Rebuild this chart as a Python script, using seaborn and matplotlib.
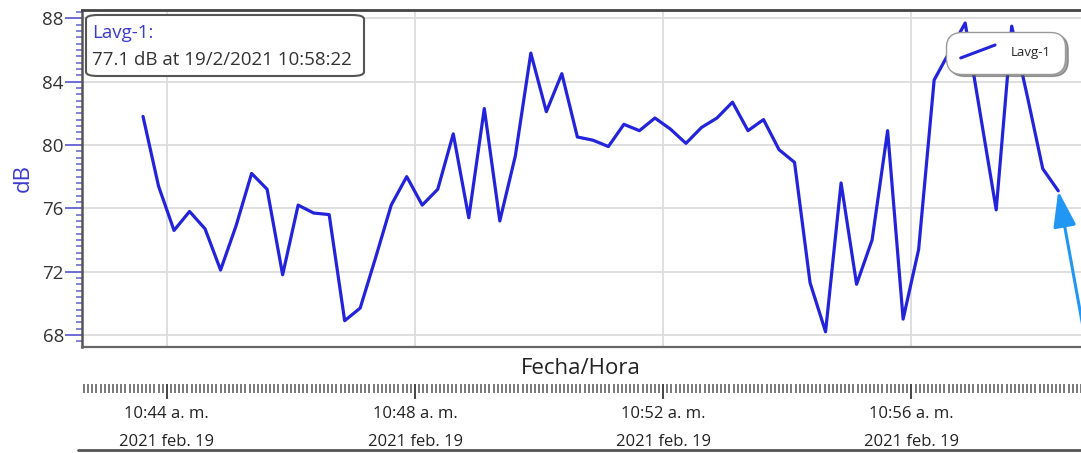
import pandas as pd
import matplotlib
matplotlib.use("Agg")
import matplotlib.pyplot as plt
import matplotlib.dates as mdates
from matplotlib.ticker import MultipleLocator, FuncFormatter
from matplotlib.lines import Line2D
from matplotlib.patches import FancyBboxPatch
from matplotlib.legend_handler import HandlerBase
import seaborn as sns

# Lavg-1 level, one reading every 15 s
start_time = "2021-02-19 10:43:37"
sample_step = "15s"
lavg_db = [81.8, 77.4, 74.6, 75.8, 74.7, 72.1, 74.9, 78.2, 77.2, 71.8,
           76.2, 75.7, 75.6, 68.9, 69.7, 72.9, 76.2, 78.0, 76.2, 77.2,
           80.7, 75.4, 82.3, 75.2, 79.3, 85.8, 82.1, 84.5, 80.5, 80.3,
           79.9, 81.3, 80.9, 81.7, 81.0, 80.1, 81.1, 81.7, 82.7, 80.9,
           81.6, 79.7, 78.9, 71.3, 68.2, 77.6, 71.2, 74.0, 80.9, 69.0,
           73.4, 84.1, 85.9, 87.7, 81.8, 75.9, 87.5, 83.1, 78.5, 77.1]
series_name = "Lavg-1"
day_label = "2021 feb. 19"
cursor_text = "77.1 dB at 19/2/2021 10:58:22"
x_range = ["2021-02-19 10:42:38", "2021-02-19 10:58:44"]
y_range = [67.24, 88.52]

times = pd.date_range(start_time, periods=len(lavg_db), freq=sample_step)
df = pd.DataFrame({"Fecha/Hora": times, "dB": lavg_db})

sns.set_style("white")
plt.rcParams["font.family"] = ["Open Sans", "DejaVu Sans"]

LINE = "#2323dc"
W, H = 1081, 453
fig = plt.figure(figsize=(W / 100, H / 100), dpi=100)
ax = fig.add_axes([82 / W, 1 - 347 / H, (W - 82) / W, 337 / H])

sns.lineplot(data=df, x="Fecha/Hora", y="dB", ax=ax, color=LINE, lw=2.3, legend=False)

x0, x1 = [mdates.date2num(pd.Timestamp(t)) for t in x_range]
ax.set_xlim(x0, x1)
ax.set_ylim(*y_range)

# grid + axes styling
ax.xaxis.set_major_locator(mdates.MinuteLocator(byminute=range(0, 60, 4)))
ax.tick_params(axis="x", which="both", length=0, labelbottom=False)
ax.yaxis.set_major_locator(MultipleLocator(4))
ax.yaxis.set_minor_locator(MultipleLocator(0.4))
ax.tick_params(axis="y", which="both", left=True)
ax.tick_params(axis="y", which="major", length=12, width=1.3, color="#6060d0",
               labelcolor="#333333", labelsize=13.5, pad=1)
ax.tick_params(axis="y", which="minor", length=4, width=1.1, color="#6060d0")
ax.grid(True, which="major", color="#dcdcdc", lw=1.3)
ax.spines["right"].set_visible(False)
ax.spines["top"].set_color("#444444")
ax.spines["top"].set_linewidth(2)
ax.spines["left"].set_color("#555555")
ax.spines["left"].set_linewidth(1.8)
ax.spines["bottom"].set_color("#666666")
ax.spines["bottom"].set_linewidth(1.6)
ax.set_xlabel("")
ax.set_ylabel("dB", color="#3b3bd0", fontsize=16)
ax.yaxis.set_label_coords(-0.048, 0.5)

# cursor readout box
ax.add_patch(FancyBboxPatch((4 / 999, 1 - 66 / 337), 278 / 999, 61 / 337,
                            boxstyle="round,pad=0,rounding_size=0.012", transform=ax.transAxes,
                            fc="white", ec="#555555", lw=1.5, zorder=5))
ax.text(10 / 999, 1 - 14 / 337, series_name + ":", transform=ax.transAxes, ha="left", va="top",
        fontsize=13.5, color="#3b3bd0", zorder=6)
ax.text(10 / 999, 1 - 50 / 337, cursor_text, transform=ax.transAxes, ha="left", va="center",
        fontsize=13.5, color="#333333", zorder=6)


# legend with slanted line handle
class SlantHandler(HandlerBase):
    def create_artists(self, legend, orig_handle, xdescent, ydescent, width, height, fontsize, trans):
        return [Line2D([0, width], [-0.2 * height, 1.2 * height], color=LINE, lw=2.2, transform=trans)]


handle = Line2D([], [], color=LINE, lw=2.2)
leg = ax.legend([handle], [series_name], handler_map={Line2D: SlantHandler()},
                loc="upper right", bbox_to_anchor=((1072 - 82) / 999, 1 - 15 / 337),
                fontsize=9.5, handlelength=2.6, handletextpad=1.2, borderpad=1.1,
                fancybox=True, shadow=True, framealpha=1, edgecolor="#999999")
leg.get_frame().set_boxstyle("round", pad=0, rounding_size=1.2)

# arrow pointing at the cursor sample
t_last = mdates.date2num(times[-1])
t_tail = mdates.date2num(pd.Timestamp("2021-02-19 10:58:49"))
ax.annotate("", xy=(t_last, lavg_db[-1]), xytext=(t_tail, 67.4), annotation_clip=False,
            arrowprops=dict(arrowstyle="-|>,head_length=22,head_width=7", mutation_scale=1,
                            color="#2196f3", lw=2.2, shrinkA=0, shrinkB=0))

# time ruler strip under the plot
ax2 = fig.add_axes([82 / W, 1 - 384 / H, (W - 82) / W, 0.0005])
ax2.set_xlim(x0, x1)
ax2.set_yticks([])
for s in ax2.spines.values():
    s.set_visible(False)
ax2.patch.set_visible(False)
ax2.xaxis.set_major_locator(mdates.MinuteLocator(byminute=range(0, 60, 4)))
ax2.xaxis.set_minor_locator(mdates.SecondLocator(bysecond=range(0, 60, 4)))
ax2.xaxis.set_major_formatter(FuncFormatter(
    lambda v, p: mdates.num2date(v).strftime("%H:%M") + " a. m.\n" + day_label))
ax2.tick_params(axis="x", which="both", bottom=True)
ax2.tick_params(axis="x", which="major", length=11, width=1.4, color="#444444",
                labelsize=12, labelcolor="#222222", pad=5)
ax2.tick_params(axis="x", which="minor", length=6.5, width=1.1, color="#555555")
for lbl in ax2.get_xticklabels():
    lbl.set_linespacing(2.0)

fig.text(581 / W, 1 - 368 / H, "Fecha/Hora", ha="center", va="center", fontsize=16, color="#222222")
fig.add_artist(Line2D([78 / W, 1], [1 - 450 / H] * 2, transform=fig.transFigure, color="#555555", lw=2))

fig.savefig("out.png", dpi=100, facecolor="white")
